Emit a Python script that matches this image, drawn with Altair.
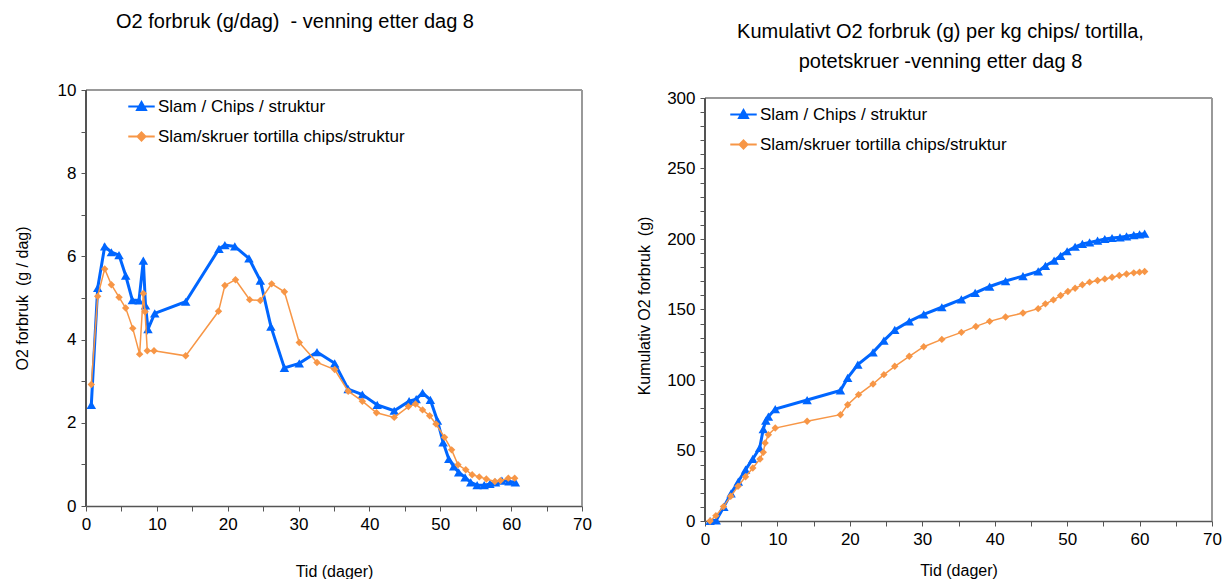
import altair as alt
import pandas as pd

FONT = "Liberation Sans"
S1 = "Slam / Chips / struktur"
S2 = "Slam/skruer tortilla chips/struktur"
BLUE = "#0066FF"
ORANGE = "#F79646"

# ---- Left chart: O2 consumption (g/day) ----
days_l_blue = [0.75, 1.65, 2.64, 3.58, 4.66, 5.6, 6.54, 7.48, 8.09, 8.4, 8.75, 9.7, 14.07, 18.77, 19.6,
               21.0, 23.0, 24.6, 26.1, 28.0, 30.1, 32.6, 35.1, 37.0, 39.0, 41.1, 43.5, 45.6, 46.6, 47.5,
               48.6, 49.6, 50.4, 51.2, 51.9, 52.6, 53.5, 54.3, 55.2, 56.2, 57.0, 57.8, 58.7, 59.7, 60.6]
o2_l_blue = [2.43, 5.24, 6.24, 6.10, 6.03, 5.54, 4.95, 4.94, 5.90, 4.82, 4.25, 4.63, 4.91, 6.18, 6.27,
             6.24, 5.95, 5.42, 4.31, 3.32, 3.43, 3.70, 3.43, 2.81, 2.68, 2.43, 2.29, 2.52, 2.57, 2.72,
             2.55, 2.05, 1.53, 1.13, 0.95, 0.81, 0.69, 0.57, 0.50, 0.50, 0.53, 0.57, 0.61, 0.59, 0.57]
days_l_orange = [0.75, 1.65, 2.64, 3.58, 4.66, 5.6, 6.6, 7.57, 8.09, 8.33, 8.65, 9.6, 14.07, 18.7, 19.6,
                 21.1, 23.1, 24.6, 26.2, 28.0, 30.1, 32.6, 35.1, 37.0, 39.0, 41.0, 43.5, 45.5, 46.5, 47.5,
                 48.5, 49.4, 50.6, 51.6, 52.5, 53.6, 54.5, 55.5, 56.5, 57.7, 58.5, 59.6, 60.5]
o2_l_orange = [2.92, 5.04, 5.70, 5.32, 5.02, 4.76, 4.27, 3.65, 5.11, 4.67, 3.73, 3.73, 3.61, 4.68, 5.30,
               5.44, 4.96, 4.94, 5.34, 5.15, 3.93, 3.45, 3.28, 2.76, 2.52, 2.24, 2.13, 2.39, 2.45, 2.31,
               2.17, 1.97, 1.65, 1.35, 0.99, 0.87, 0.75, 0.70, 0.65, 0.59, 0.61, 0.67, 0.67]

# ---- Right chart: cumulative O2 (g) per kg ----
days_r_blue = [0.7, 1.55, 2.6, 3.6, 4.6, 5.6, 6.6, 7.55, 8.05, 8.4, 8.75, 9.7, 14.1, 18.7, 19.7,
               21.1, 23.2, 24.7, 26.2, 28.2, 30.2, 32.7, 35.4, 37.3, 39.3, 41.5, 43.9, 46.0, 47.0, 48.2,
               49.1, 50.0, 51.1, 52.1, 53.1, 54.2, 55.2, 56.2, 57.3, 58.2, 59.2, 60.0, 60.7]
cum_r_blue = [0, 0.5, 10, 19.6, 28, 36.4, 44, 51.8, 65.2, 71.2, 74, 79.4, 85.8, 92.6, 101.5,
              110.9, 119.6, 127.9, 135.5, 141.6, 146.5, 151.6, 157.2, 161.8, 166.3, 170.2, 173.7, 177.0, 181.0, 184.6,
              188.1, 191.3, 194.5, 196.5, 197.6, 198.8, 200.0, 200.7, 201.2, 201.9, 202.8, 203.3, 203.8]
days_r_orange = [0.7, 1.5, 2.55, 3.55, 4.56, 5.6, 6.6, 7.6, 8.05, 8.3, 8.75, 9.7, 14.1, 18.7, 19.7,
                 21.2, 23.2, 24.7, 26.2, 28.2, 30.2, 32.7, 35.4, 37.4, 39.3, 41.5, 43.9, 46.0, 47.0, 48.1,
                 49.1, 50.1, 51.1, 52.1, 53.1, 54.2, 55.2, 56.2, 57.2, 58.2, 59.2, 60.0, 60.7]
cum_r_orange = [0, 3.8, 10.2, 17.5, 24.6, 31.4, 37.6, 44.0, 48.7, 55.3, 61.2, 65.9, 70.7, 75.4, 82.4,
                89.6, 97.2, 103.8, 109.7, 116.8, 123.6, 128.8, 133.8, 138.0, 141.6, 144.7, 147.5, 150.6, 154.0, 156.8,
                159.9, 162.8, 165.1, 167.5, 169.4, 170.6, 171.7, 172.9, 174.1, 175.2, 176.0, 176.5, 176.9]

# legend symbols: a line with a marker on it
PATH_T = "M-1,0H1M0,-0.34L0.34,0.26L-0.34,0.26Z"
PATH_D = "M-1,0H1M0,-0.3L0.3,0L0,0.3L-0.3,0Z"
NB = "\u00a0"


def make_df(db, vb, do, vo):
    a = pd.DataFrame({"day": db, "val": vb, "series": S1})
    b = pd.DataFrame({"day": do, "val": vo, "series": S2})
    return pd.concat([a, b], ignore_index=True)


def panel(df, ymax, ytop, ystep, ylabstep, ytitle, w, h, title, legx, legy,
          ytp, xtp):
    xscale = alt.Scale(domain=[0, 70], nice=False, zero=False)
    yscale = alt.Scale(domain=[0, ytop], nice=False)
    xvals = list(range(0, 71, 5))
    X = alt.X("day:Q", scale=xscale,
              axis=alt.Axis(values=xvals, tickCount=len(xvals),
                            labelExpr="datum.value % 10 === 0 ? datum.label : ''",
                            title="Tid (dager)", titlePadding=xtp, labelFlush=False,
                            labelOverlap=False, domainWidth=1.5))
    yvals = [i * ystep for i in range(int(round(ymax / ystep)) + 1)]
    Y = alt.Y("val:Q", scale=yscale,
              axis=alt.Axis(values=yvals, tickCount=len(yvals),
                            labelExpr=f"datum.value % {ylabstep} === 0 ? datum.label : ''",
                            title=ytitle, titlePadding=ytp, labelOverlap=False, labelFlush=False,
                            domain=False))
    base = alt.Chart(df)
    sb = base.transform_filter(alt.datum.series == S1)
    so = base.transform_filter(alt.datum.series == S2)
    # plot frame: y-axis line, top and right border drawn on the data scales
    yline = base.mark_rule(color="#555555", strokeWidth=1.5).encode(
        x=alt.datum(0), y=alt.datum(0), y2=alt.datum(ymax))
    top = base.mark_rule(color="#999999", strokeWidth=1).encode(
        x=alt.datum(0), x2=alt.datum(70), y=alt.datum(ymax))
    right = base.mark_rule(color="#999999", strokeWidth=1).encode(
        x=alt.datum(70), y=alt.datum(0), y2=alt.datum(ymax))
    line_b = sb.mark_line(color=BLUE, strokeWidth=3).encode(x=X, y=Y)
    pts_b = sb.mark_point(shape="triangle-up", filled=True, color=BLUE, size=90, opacity=1).encode(x=X, y=Y)
    line_o = so.mark_line(color=ORANGE, strokeWidth=1.5).encode(x=X, y=Y)
    pts_o = so.mark_point(shape="diamond", filled=True, color=ORANGE, size=55, opacity=1).encode(x=X, y=Y)
    leg = alt.Legend(title=None, orient="none", legendX=legx, legendY=legy, symbolSize=700,
                     symbolStrokeWidth=2, symbolOpacity=1, labelFont=FONT, labelFontSize=17,
                     labelColor="black", labelOffset=2, rowPadding=7, padding=0, labelLimit=500)
    dom = [S1, S2]
    legend_layer = base.mark_point(filled=True).encode(
        x=X, y=Y,
        shape=alt.Shape("series:N", scale=alt.Scale(domain=dom, range=[PATH_T, PATH_D]), legend=leg),
        fill=alt.Fill("series:N", scale=alt.Scale(domain=dom, range=[BLUE, ORANGE]), legend=leg),
        stroke=alt.Stroke("series:N", scale=alt.Scale(domain=dom, range=[BLUE, ORANGE]), legend=leg),
        opacity=alt.value(0),
    )
    return alt.layer(line_b, pts_b, line_o, pts_o, legend_layer, top, right, yline).properties(
        width=w, height=h, title=title)


left_df = make_df(days_l_blue, o2_l_blue, days_l_orange, o2_l_orange)
right_df = make_df(days_r_blue, cum_r_blue, days_r_orange, cum_r_orange)

left_title = alt.TitleParams(text=f"O2 forbruk (g/dag) {NB}- venning etter dag 8", anchor="middle",
                             frame="group", dx=-39, offset=49, fontSize=20, font=FONT,
                             fontWeight="normal", color="black")
right_title = alt.TitleParams(text=["Kumulativt O2 forbruk (g) per kg chips/ tortilla,",
                                    "potetskruer -venning etter dag 8"],
                              anchor="middle", frame="group", dx=-18, offset=17, lineHeight=30,
                              fontSize=20, font=FONT, fontWeight="normal", color="black")

# right panel: plot area starts 8 px above the 300 line (panels share a top edge)
R_H = 431
R_TOP = 300 * R_H / 423

left = panel(left_df, 10, 10, 1, 2, f"O2 forbruk {NB}(g / dag)", 496, 416, left_title, 41, 2, 27, 31)
right = panel(right_df, 300, R_TOP, 10, 50, f"Kumulativ O2 forbruk {NB}(g)", 507, R_H, right_title,
              24, 10, 14, 15)

chart = alt.hconcat(left, right, spacing=44).resolve_scale(
    shape="independent", fill="independent", stroke="independent"
).resolve_legend(
    shape="independent", fill="independent", stroke="independent"
).properties(
    padding={"left": 14, "top": 12, "right": 0, "bottom": 0}
).configure_view(
    stroke=None
).configure_axis(
    labelFont=FONT, titleFont=FONT, labelFontSize=17, titleFontSize=16,
    titleFontWeight="normal", labelColor="black", titleColor="black",
    domainColor="#555555", tickColor="#555555", grid=False, tickSize=5, labelPadding=5,
)

chart.save("out.html", embed_options={"renderer": "svg", "actions": False})
